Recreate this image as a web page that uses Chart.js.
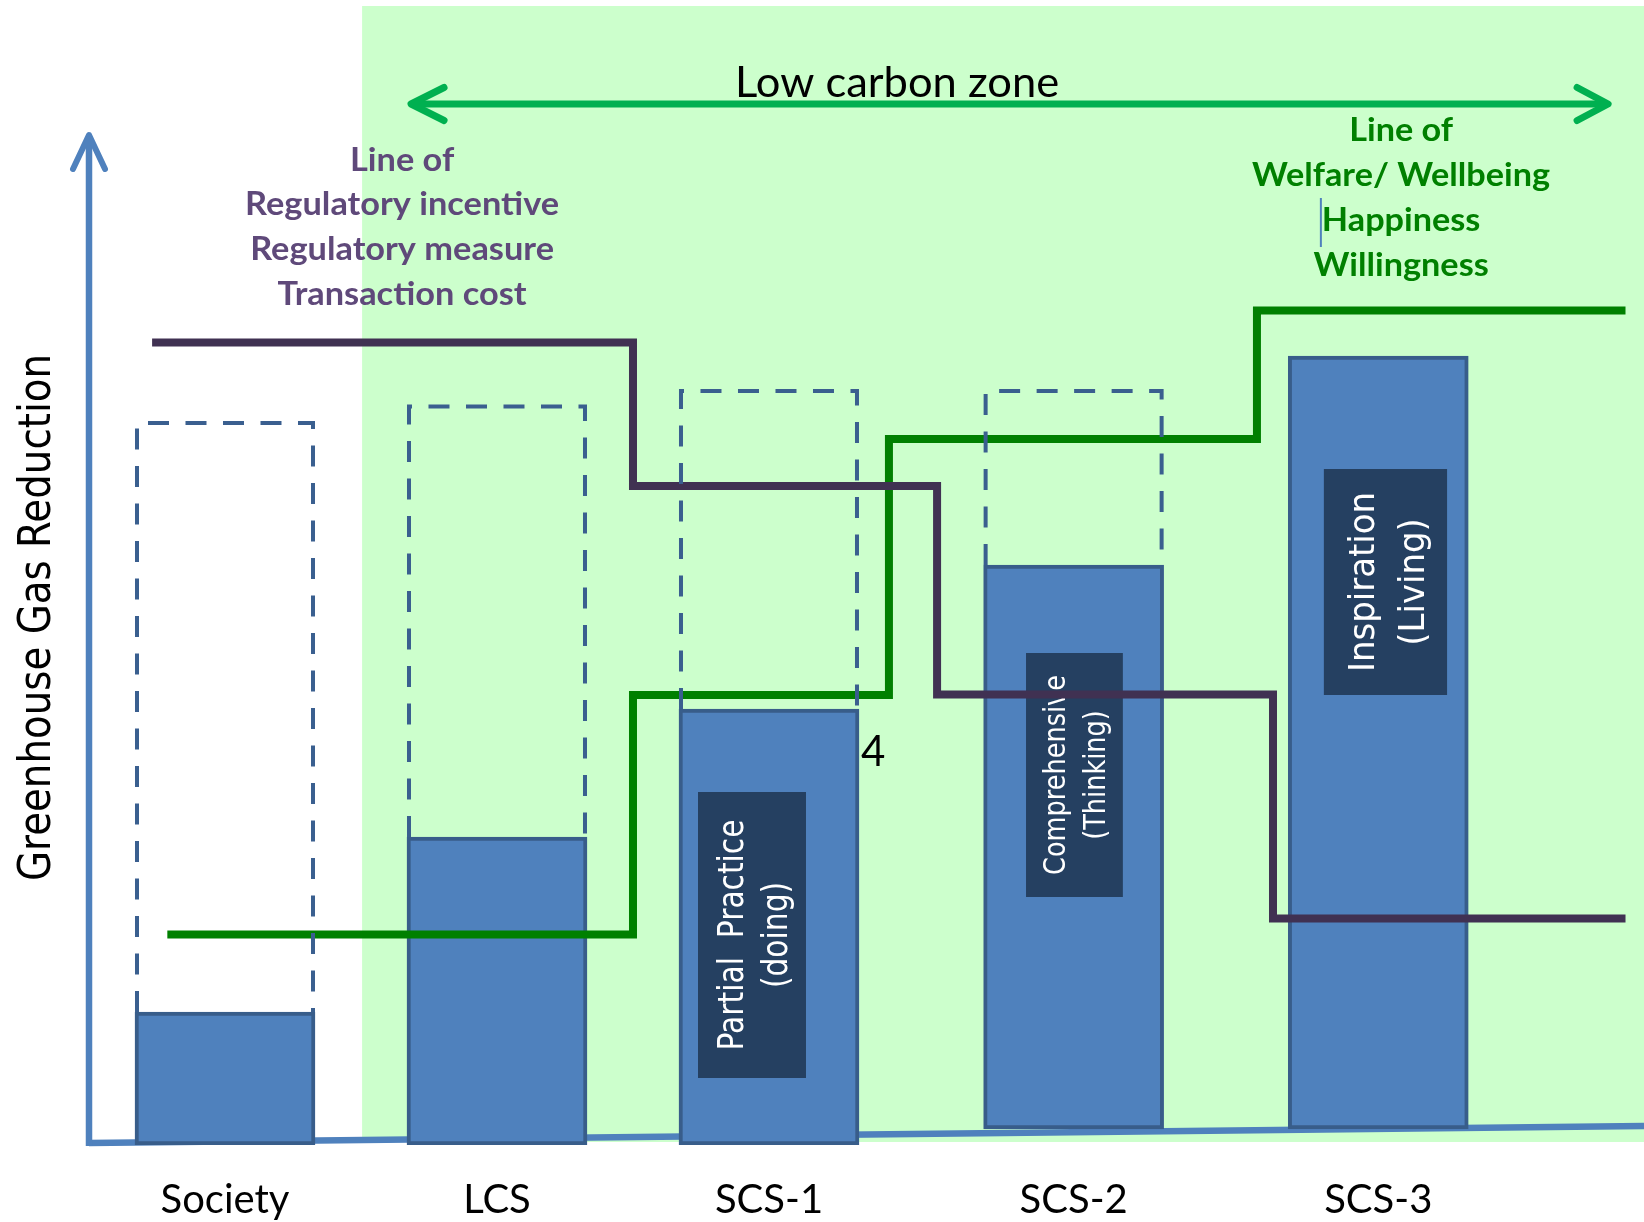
<!DOCTYPE html>
<html>
<head>
<meta charset="utf-8">
<title>Greenhouse Gas Reduction by Society Stage</title>
<script src="https://cdn.jsdelivr.net/npm/chart.js@4.4.1/dist/chart.umd.min.js"></script>
<style>
  html, body { margin: 0; padding: 0; background: #ffffff; }
  canvas { display: block; }
</style>
</head>
<body>
<canvas id="chart" width="1644" height="1222"></canvas>
<script>
// Stages along the horizontal axis
const categories = ['Society', 'LCS', 'SCS-1', 'SCS-2', 'SCS-3'];
const stagePositions = [1, 2, 3, 4.12, 5.24];

// Achieved greenhouse gas reduction per stage (bar base and top)
const achievedBase = [0, 0, 0, 1.6, 1.6];
const achievedTop = [13.3, 30.8, 43.6, 58.0, 78.9];

// Potential reduction per stage (dashed outline above each bar)
const potentialTop = [72.4, 74.05, 75.6, 75.6, null];

// Line of regulatory incentive / regulatory measure / transaction cost
const regulatoryX = [0.732, 2.5, 3.618, 4.853, 6.149];
const regulatoryY = [80.25, 65.9, 45.05, 22.65, 22.65];

// Line of welfare / wellbeing / happiness / willingness
const welfareX = [0.788, 2.5, 3.441, 4.794, 6.149];
const welfareY = [21.05, 45.0, 70.6, 83.45, 83.45];

const achievedData = categories.map((c, i) => ({ x: stagePositions[i], y: [achievedBase[i], achievedTop[i]] }));
const potentialData = categories
  .map((c, i) => (potentialTop[i] == null ? null : { x: stagePositions[i], y: [achievedTop[i], potentialTop[i]] }))
  .filter(d => d !== null);
const regulatoryData = regulatoryX.map((x, i) => ({ x, y: regulatoryY[i] }));
const welfareData = welfareX.map((x, i) => ({ x, y: welfareY[i] }));

// Text boxes inside the stage bars
const stageNotes = [
  { x0: 2.739, x1: 3.136, y0: 6.7, y1: 35.3, lines: ['Partial  Practice', '(doing)'], size: 35, gap: 44, cap: 25.5, fit: 231 },
  { x0: 3.945, x1: 4.301, y0: 24.8, y1: 49.2, lines: ['Comprehensive', '(Thinking)'], size: 30, gap: 40, cap: 22, fit: 200 },
  { x0: 5.040, x1: 5.493, y0: 45.0, y1: 67.6, lines: ['Inspiration', '(Living)'], size: 36, gap: 50, cap: 26.3, fit: 180 }
];

function drawBlock(ctx, lines, cx, baselines, font, color, fitIndex, fitWidth) {
  ctx.save();
  ctx.font = font;
  ctx.fillStyle = color;
  ctx.textAlign = 'center';
  ctx.textBaseline = 'alphabetic';
  const k = fitWidth ? fitWidth / ctx.measureText(lines[fitIndex]).width : 1;
  lines.forEach((t, i) => {
    ctx.save();
    ctx.translate(cx, baselines[i]);
    ctx.scale(k, 1);
    ctx.fillText(t, 0, 0);
    ctx.restore();
  });
  ctx.restore();
}

function drawRotated(ctx, lines, cx, cy, font, color, gap, cap, fitWidth) {
  ctx.save();
  ctx.translate(cx, cy);
  ctx.rotate(-Math.PI / 2);
  ctx.font = font;
  ctx.fillStyle = color;
  ctx.textAlign = 'center';
  ctx.textBaseline = 'alphabetic';
  const k = fitWidth / ctx.measureText(lines[0]).width;
  const n = lines.length;
  lines.forEach((t, i) => {
    ctx.save();
    ctx.translate(0, (i - (n - 1) / 2) * gap + cap / 2);
    ctx.scale(k, 1);
    ctx.fillText(t, 0, 0);
    ctx.restore();
  });
  ctx.restore();
}

function chevron(ctx, tipX, tipY, dx, dy) {
  ctx.beginPath();
  ctx.moveTo(tipX + dx, tipY - dy);
  ctx.lineTo(tipX, tipY);
  ctx.lineTo(tipX + dx, tipY + dy);
  ctx.stroke();
}

const diagramInk = {
  id: 'diagramInk',
  beforeDatasetsDraw(chart) {
    const { ctx } = chart;
    const xs = chart.scales.x, ys = chart.scales.y;
    ctx.save();
    // low carbon zone shading
    ctx.fillStyle = '#ccffcc';
    const zx = xs.getPixelForValue(1.504);
    const zt = ys.getPixelForValue(113.9);
    const zb = ys.getPixelForValue(0.3);
    ctx.fillRect(zx, zt, chart.width - zx, zb - zt);

    // axes
    ctx.strokeStyle = '#4f81bd';
    ctx.lineWidth = 6.5;
    ctx.lineCap = 'butt';
    const ox = xs.getPixelForValue(0.5);
    const oy = ys.getPixelForValue(0.2);
    ctx.beginPath();
    ctx.moveTo(ox, oy);
    ctx.lineTo(xs.getPixelForValue(6.217), ys.getPixelForValue(1.9));
    ctx.stroke();
    const tipY = ys.getPixelForValue(101);
    ctx.beginPath();
    ctx.moveTo(ox, oy + 3);
    ctx.lineTo(ox, tipY + 2);
    ctx.stroke();
    ctx.lineCap = 'round';
    ctx.lineJoin = 'round';
    ctx.lineWidth = 6;
    ctx.beginPath();
    ctx.moveTo(ox - 16, tipY + 34);
    ctx.lineTo(ox, tipY);
    ctx.lineTo(ox + 16, tipY + 34);
    ctx.stroke();
    ctx.restore();

    // stage names under the axis
    ctx.save();
    ctx.font = '40px Lato';
    ctx.fillStyle = '#000000';
    ctx.textAlign = 'center';
    ctx.textBaseline = 'alphabetic';
    categories.forEach((name, i) => {
      ctx.fillText(name, xs.getPixelForValue(stagePositions[i]), ys.getPixelForValue(-6.8));
    });
    ctx.restore();
  },
  afterDatasetDraw(chart, args) {
    const { ctx } = chart;
    const xs = chart.scales.x, ys = chart.scales.y;
    if (args.index === 0) {
      // dark label boxes on the bars
      stageNotes.forEach(n => {
        const l = xs.getPixelForValue(n.x0), r = xs.getPixelForValue(n.x1);
        const t = ys.getPixelForValue(n.y1), b = ys.getPixelForValue(n.y0);
        ctx.save();
        ctx.fillStyle = '#254061';
        ctx.fillRect(l, t, r - l, b - t);
        ctx.restore();
        drawRotated(ctx, n.lines, (l + r) / 2, (t + b) / 2, n.size + 'px "DejaVu Sans"', '#ffffff', n.gap, n.cap, n.fit);
      });
    }
    if (args.index === 1) {
      // dashed outline of the potential reduction
      const meta = chart.getDatasetMeta(1);
      ctx.save();
      ctx.strokeStyle = '#3a5f8f';
      ctx.lineWidth = 4;
      ctx.setLineDash([21, 16.5]);
      ctx.lineCap = 'butt';
      meta.data.forEach(el => {
        const p = el.getProps(['x', 'y', 'base', 'width'], true);
        const l = p.x - p.width / 2 + 2, r = p.x + p.width / 2 - 2, t = p.y + 2;
        ctx.beginPath();
        ctx.moveTo(l, p.base);
        ctx.lineTo(l, t);
        ctx.lineTo(r, t);
        ctx.lineTo(r, p.base);
        ctx.stroke();
      });
      ctx.restore();
    }
  },
  afterDatasetsDraw(chart) {
    const { ctx } = chart;
    const xs = chart.scales.x, ys = chart.scales.y;
    const X = v => xs.getPixelForValue(v);
    const Y = v => ys.getPixelForValue(v);

    // low carbon zone double arrow
    ctx.save();
    ctx.strokeStyle = '#00b050';
    ctx.lineWidth = 7;
    ctx.lineJoin = 'round';
    const ay = Y(104.1), ax0 = X(1.684), ax1 = X(6.085);
    ctx.lineCap = 'butt';
    ctx.beginPath();
    ctx.moveTo(ax0 + 3, ay);
    ctx.lineTo(ax1 - 3, ay);
    ctx.stroke();
    ctx.lineCap = 'round';
    chevron(ctx, ax0, ay, 33, 16.5);
    chevron(ctx, ax1, ay, -31, 16.5);
    ctx.restore();

    drawBlock(ctx, ['Low carbon zone'], X(3.471), [Y(104.8)], '42px Lato', '#000000', 0, 324);

    drawBlock(ctx, ['Line of', 'Regulatory incentive', 'Regulatory measure', 'Transaction cost'],
      X(1.651), [Y(97.43), Y(93.0), Y(88.47), Y(84.0)], 'bold 32px Lato', '#5f497a', 1, 314);

    drawBlock(ctx, ['Line of', 'Welfare/ Wellbeing', 'Happiness', 'Willingness'],
      X(5.324), [Y(100.4), Y(95.9), Y(91.43), Y(86.9)], 'bold 32px Lato', '#008000', 1, 298);

    // text cursor mark beside "Happiness"
    ctx.save();
    ctx.strokeStyle = '#4f81bd';
    ctx.lineWidth = 2;
    ctx.beginPath();
    ctx.moveTo(X(5.029), Y(94.7));
    ctx.lineTo(X(5.029), Y(89.8));
    ctx.stroke();
    ctx.restore();

    // stray "4"
    ctx.save();
    ctx.font = '42px Lato';
    ctx.fillStyle = '#000000';
    ctx.textAlign = 'left';
    ctx.textBaseline = 'alphabetic';
    ctx.fillText('4', X(3.338), Y(37.9));
    ctx.restore();

    // vertical axis title
    drawRotated(ctx, ['Greenhouse Gas Reduction'], X(0.296), Y(52.75), '45px "DejaVu Sans"', '#000000', 0, 33, 527);
  }
};

new Chart(document.getElementById('chart'), {
  type: 'bar',
  data: {
    datasets: [
      {
        label: 'Achieved reduction',
        data: achievedData,
        backgroundColor: '#4f81bd',
        borderColor: '#385d8a',
        borderWidth: 4,
        borderSkipped: false,
        barThickness: 180,
        grouped: false,
        order: 4
      },
      {
        label: 'Potential reduction',
        data: potentialData,
        backgroundColor: 'rgba(0,0,0,0)',
        borderWidth: 0,
        barThickness: 180,
        grouped: false,
        order: 1
      },
      {
        type: 'line',
        label: 'Line of Regulatory incentive',
        data: regulatoryData,
        stepped: 'before',
        borderColor: '#403152',
        borderWidth: 8,
        borderCapStyle: 'butt',
        borderJoinStyle: 'miter',
        pointRadius: 0,
        pointHoverRadius: 0,
        fill: false,
        order: 2
      },
      {
        type: 'line',
        label: 'Line of Welfare',
        data: welfareData,
        stepped: 'before',
        borderColor: '#008000',
        borderWidth: 8,
        borderCapStyle: 'butt',
        borderJoinStyle: 'miter',
        pointRadius: 0,
        pointHoverRadius: 0,
        fill: false,
        order: 3
      }
    ]
  },
  options: {
    responsive: false,
    devicePixelRatio: 1,
    animation: false,
    events: [],
    layout: { padding: { left: 89, top: 145, right: 0, bottom: 77 } },
    plugins: { legend: { display: false }, tooltip: { enabled: false } },
    scales: {
      x: {
        type: 'linear',
        display: false,
        offset: false,
        min: 0.5,
        max: 6.217
      },
      y: {
        display: false,
        min: 0,
        max: 100
      }
    }
  },
  plugins: [diagramInk]
});
</script>
</body>
</html>
